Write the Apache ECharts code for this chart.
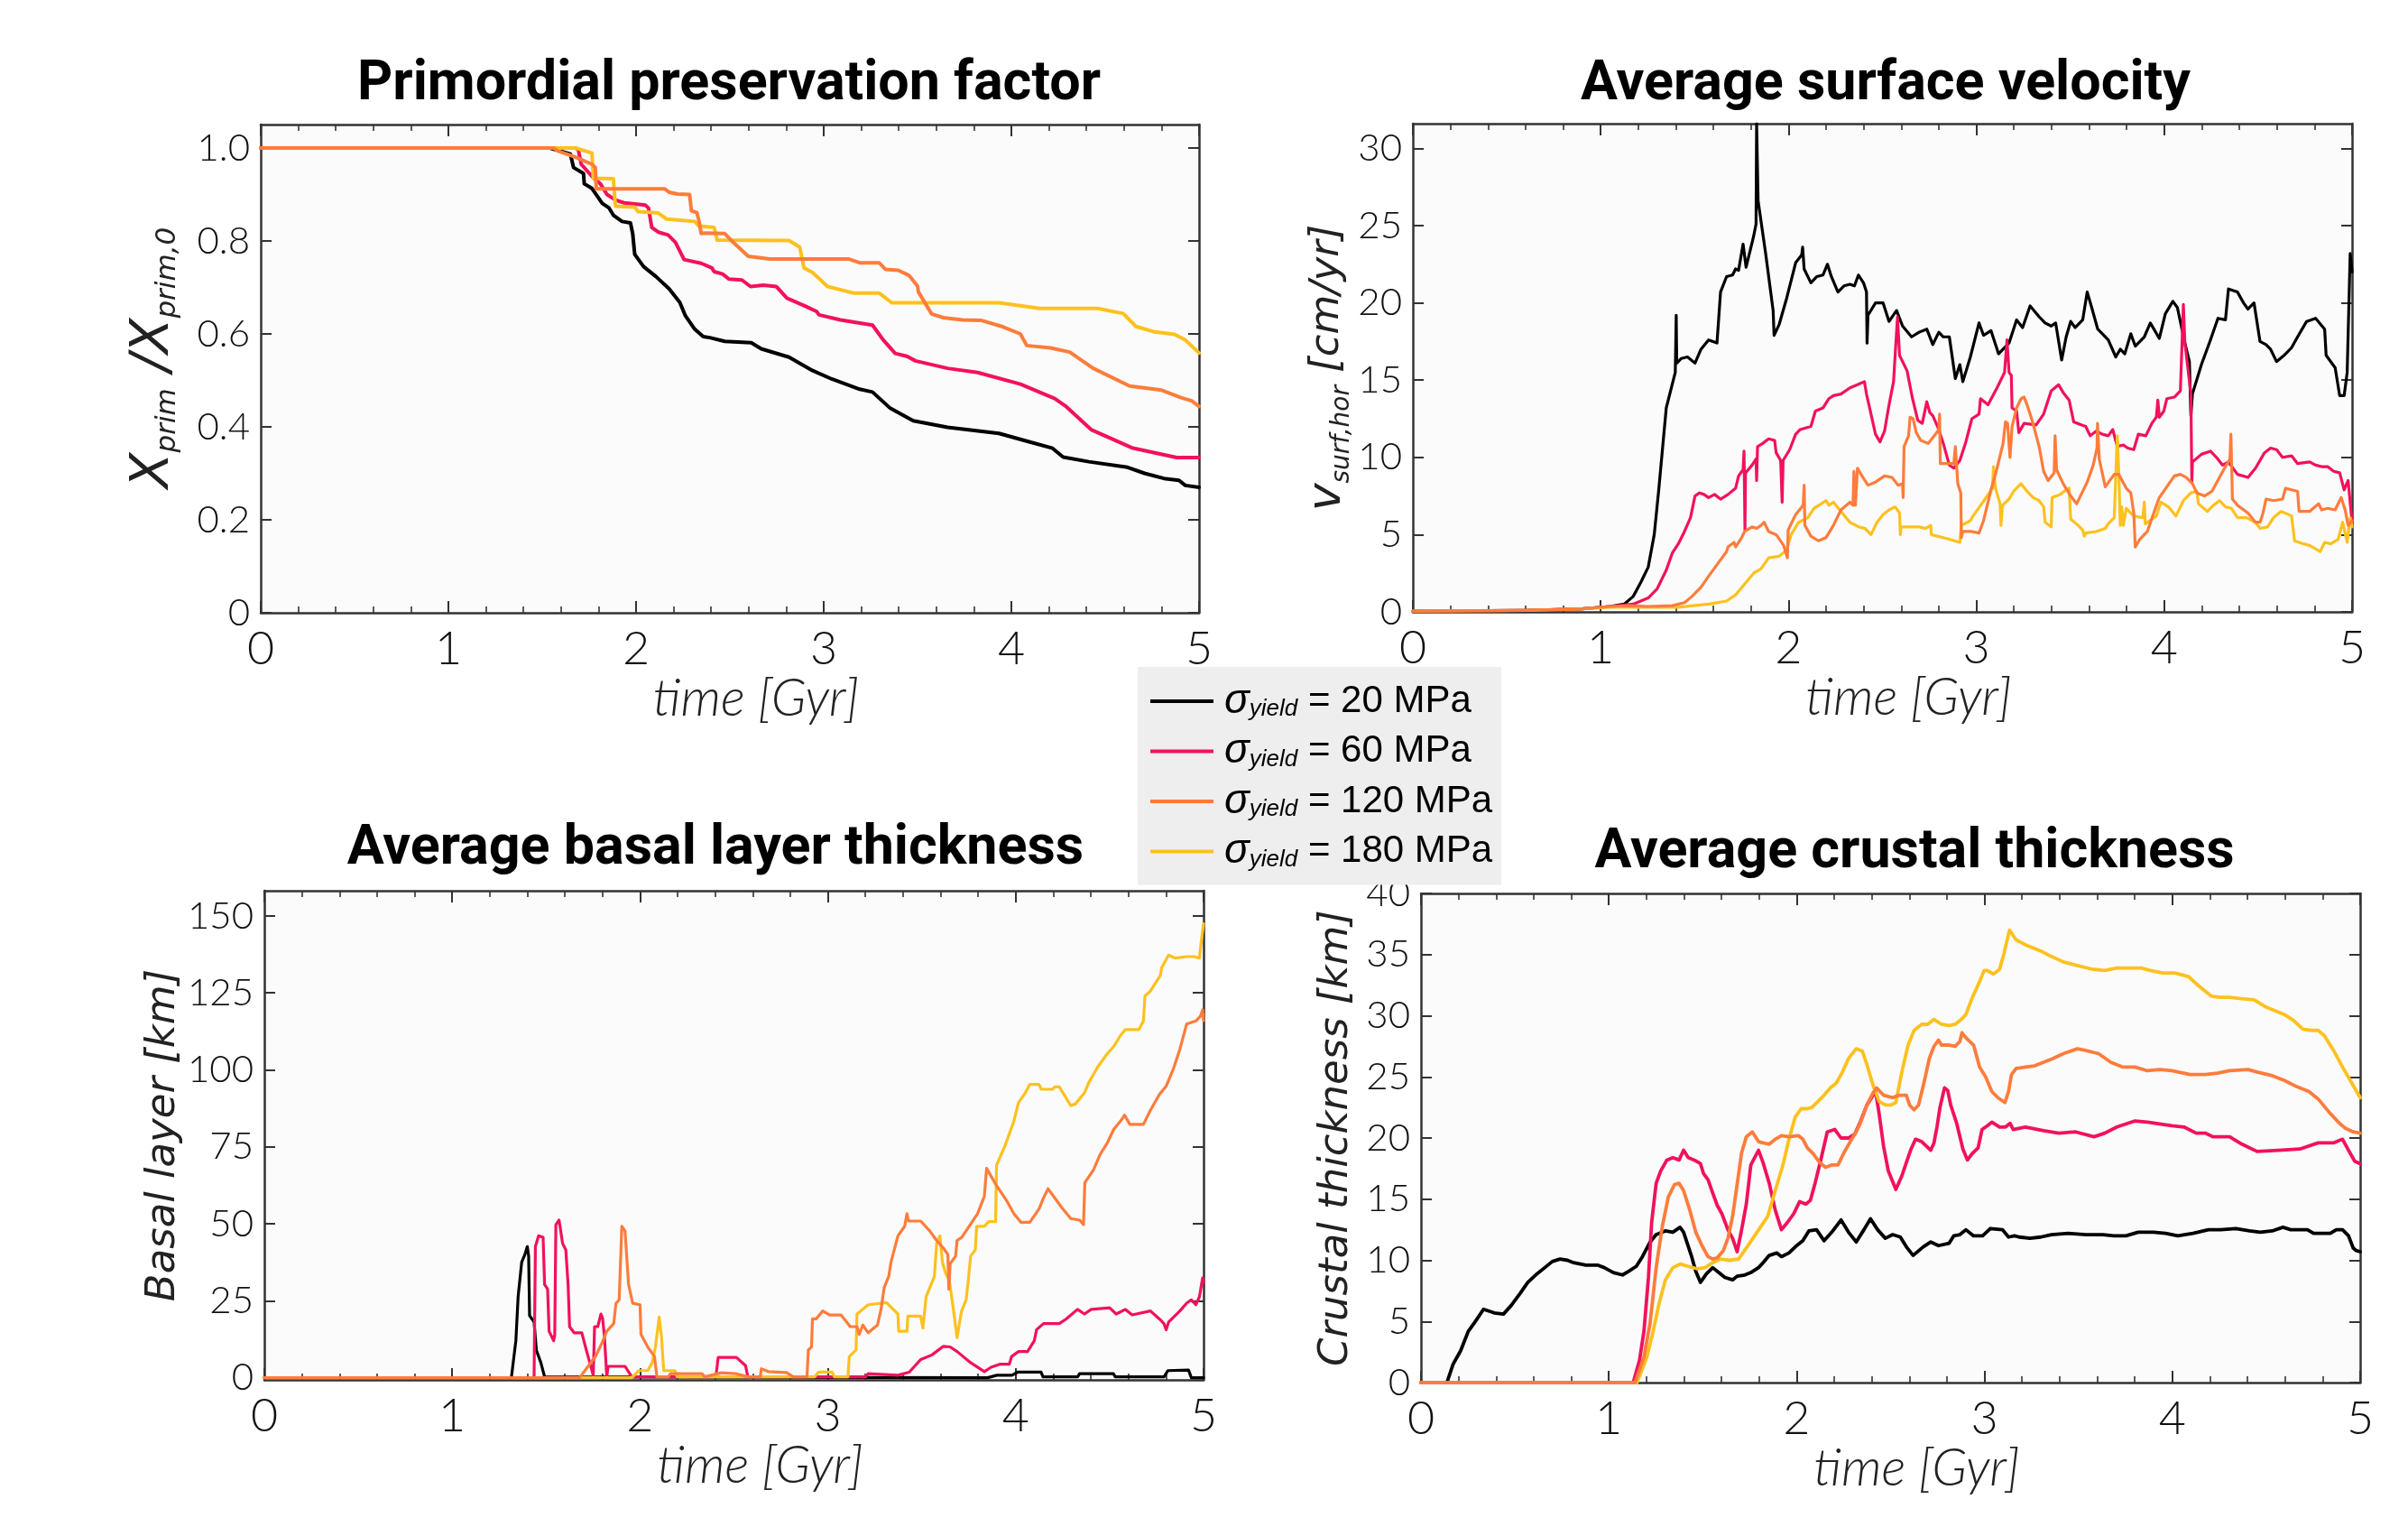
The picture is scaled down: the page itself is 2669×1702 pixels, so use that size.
<!DOCTYPE html>
<html>
<head>
<meta charset="utf-8">
<title>Yield stress comparison</title>
<script src="https://cdn.jsdelivr.net/npm/echarts@6/dist/echarts.min.js"></script>
<style>
html, body { margin: 0; padding: 0; background: #fff; }
#chart { width: 2669px; height: 1702px; }
</style>
</head>
<body>
<div id="chart"></div>
<script>
// time in Gyr
var timeTicks = [0, 1, 2, 3, 4, 5];
var primTicks = [0, 0.2, 0.4, 0.6, 0.8, 1.0];
var velTicks = [0, 5, 10, 15, 20, 25, 30];
var basalTicks = [0, 25, 50, 75, 100, 125, 150];
var crustTicks = [0, 5, 10, 15, 20, 25, 30, 35, 40];

var yieldNames = ['20', '60', '120', '180'];

// Primordial preservation factor
var prim20 = [[0,1],[1.54,1],[1.65,0.987],[1.667,0.958],[1.72,0.945],[1.724,0.923],[1.765,0.913],[1.82,0.881],[1.856,0.871],[1.88,0.855],[1.925,0.842],[1.97,0.839],[1.982,0.816],[1.993,0.771],[2.04,0.745],[2.107,0.723],[2.176,0.697],[2.233,0.668],[2.263,0.639],[2.313,0.61],[2.358,0.594],[2.393,0.592],[2.473,0.584],[2.614,0.581],[2.667,0.568],[2.815,0.55],[2.941,0.521],[3.043,0.503],[3.192,0.481],[3.26,0.475],[3.352,0.441],[3.477,0.413],[3.66,0.399],[3.934,0.386],[4.094,0.368],[4.219,0.354],[4.276,0.335],[4.413,0.325],[4.619,0.313],[4.71,0.3],[4.813,0.289],[4.893,0.285],[4.927,0.274],[5,0.27]];
var prim60 = [[0,1],[1.674,1],[1.692,0.997],[1.708,0.965],[1.765,0.939],[1.81,0.923],[1.845,0.9],[1.89,0.888],[1.936,0.882],[2.05,0.877],[2.066,0.871],[2.084,0.829],[2.119,0.819],[2.171,0.813],[2.21,0.797],[2.256,0.76],[2.347,0.752],[2.404,0.742],[2.416,0.734],[2.461,0.729],[2.495,0.718],[2.564,0.716],[2.61,0.702],[2.678,0.705],[2.747,0.702],[2.804,0.677],[2.906,0.659],[2.963,0.648],[2.975,0.641],[3.089,0.63],[3.26,0.619],[3.317,0.587],[3.381,0.558],[3.443,0.552],[3.489,0.542],[3.66,0.526],[3.82,0.517],[4.048,0.492],[4.231,0.461],[4.288,0.445],[4.425,0.394],[4.642,0.355],[4.881,0.334],[5,0.334]];
var prim120 = [[0,1],[1.56,1],[1.582,0.994],[1.674,0.981],[1.765,0.965],[1.783,0.958],[1.788,0.912],[2.153,0.912],[2.176,0.905],[2.221,0.901],[2.285,0.9],[2.295,0.865],[2.324,0.861],[2.336,0.842],[2.347,0.816],[2.37,0.817],[2.473,0.816],[2.518,0.797],[2.598,0.767],[2.712,0.761],[3.135,0.761],[3.192,0.753],[3.295,0.753],[3.329,0.739],[3.397,0.737],[3.454,0.726],[3.5,0.703],[3.505,0.69],[3.575,0.643],[3.637,0.635],[3.74,0.63],[3.842,0.629],[3.957,0.615],[4.048,0.6],[4.082,0.575],[4.208,0.57],[4.311,0.561],[4.436,0.526],[4.63,0.488],[4.801,0.479],[4.904,0.463],[4.961,0.456],[5,0.444]];
var prim180 = [[0,1],[1.674,1],[1.696,0.998],[1.765,0.989],[1.772,0.935],[1.879,0.934],[1.89,0.875],[1.993,0.873],[2.011,0.863],[2.119,0.86],[2.164,0.847],[2.313,0.842],[2.336,0.832],[2.416,0.829],[2.432,0.802],[2.815,0.801],[2.872,0.787],[2.895,0.742],[2.941,0.732],[3.021,0.702],[3.158,0.688],[3.295,0.688],[3.363,0.667],[3.934,0.667],[4.151,0.655],[4.459,0.655],[4.596,0.644],[4.664,0.616],[4.756,0.605],[4.87,0.599],[4.927,0.587],[5,0.559]];

// Average surface velocity [cm/yr]
var vel20 = [[0,0.05],[0.6,0.1],[0.9,0.2],[1.05,0.35],[1.125,0.5],[1.173,1.0],[1.213,1.9],[1.253,2.9],[1.285,5.0],[1.309,7.9],[1.349,13.2],[1.397,15.5],[1.402,19.2],[1.405,16.1],[1.429,16.4],[1.462,16.5],[1.502,16.1],[1.534,17.0],[1.574,17.6],[1.619,17.4],[1.638,20.7],[1.67,21.7],[1.702,21.8],[1.718,22.2],[1.734,22.1],[1.758,23.8],[1.774,22.3],[1.814,24.3],[1.827,25.1],[1.83,31.6],[1.838,26.6],[1.878,23.2],[1.918,19.5],[1.923,17.9],[1.95,18.6],[1.99,20.3],[2.038,22.6],[2.07,23.1],[2.075,23.6],[2.083,22.2],[2.119,21.3],[2.151,21.7],[2.183,21.8],[2.207,22.5],[2.228,21.7],[2.263,20.7],[2.295,21.1],[2.327,21.2],[2.351,21.1],[2.372,21.8],[2.399,21.3],[2.415,20.7],[2.418,17.4],[2.423,19.2],[2.463,20.0],[2.503,20.0],[2.535,18.8],[2.575,19.5],[2.607,18.5],[2.655,17.8],[2.695,18.1],[2.736,18.3],[2.768,17.3],[2.8,18.1],[2.824,17.8],[2.856,17.8],[2.888,15.1],[2.912,16.0],[2.928,14.9],[2.968,16.5],[3.014,18.7],[3.038,17.9],[3.078,18.2],[3.118,16.7],[3.174,17.4],[3.214,18.9],[3.246,18.4],[3.286,19.8],[3.334,19.1],[3.366,18.7],[3.398,18.5],[3.422,18.7],[3.454,16.3],[3.478,17.8],[3.502,18.8],[3.526,18.4],[3.55,18.7],[3.566,18.9],[3.59,20.7],[3.614,19.7],[3.646,18.3],[3.702,17.6],[3.742,16.5],[3.766,17.0],[3.79,16.7],[3.822,18.0],[3.846,17.2],[3.894,17.8],[3.926,18.7],[3.974,17.7],[4.006,19.3],[4.046,20.1],[4.07,19.7],[4.11,17.4],[4.134,16.2],[4.142,12.7],[4.15,14.1],[4.198,16.0],[4.246,17.6],[4.286,19.0],[4.326,18.9],[4.342,20.9],[4.39,20.7],[4.422,20.0],[4.446,19.6],[4.478,20.0],[4.51,17.5],[4.542,17.3],[4.566,17.0],[4.598,16.2],[4.638,16.6],[4.678,17.1],[4.71,17.8],[4.758,18.8],[4.806,19.0],[4.854,18.3],[4.862,16.6],[4.91,15.8],[4.934,14.0],[4.958,14.0],[4.974,15.5],[4.99,23.2],[5,22.0]];
var vel60 = [[0,0.05],[0.6,0.1],[0.9,0.2],[1.05,0.35],[1.173,0.5],[1.253,0.9],[1.301,1.5],[1.349,2.7],[1.381,3.8],[1.413,4.4],[1.446,5.2],[1.478,6.1],[1.502,7.5],[1.526,7.7],[1.55,7.6],[1.574,7.4],[1.606,7.6],[1.638,7.3],[1.678,7.6],[1.718,8.0],[1.734,8.8],[1.758,9.2],[1.763,10.4],[1.768,5.3],[1.771,9.0],[1.806,9.5],[1.827,9.9],[1.83,8.5],[1.835,10.7],[1.862,10.9],[1.894,11.2],[1.926,11.1],[1.934,10.3],[1.958,9.8],[1.966,7.1],[1.971,9.8],[2.006,10.5],[2.038,11.5],[2.062,11.8],[2.119,12.0],[2.143,13.0],[2.183,13.2],[2.215,13.8],[2.239,14.0],[2.279,14.1],[2.327,14.5],[2.367,14.7],[2.404,14.9],[2.415,14.1],[2.439,12.8],[2.463,11.5],[2.487,11.0],[2.511,11.7],[2.535,13.4],[2.559,14.9],[2.58,19.1],[2.591,16.6],[2.631,15.6],[2.66,13.8],[2.688,12.4],[2.712,12.2],[2.736,13.6],[2.752,12.9],[2.768,12.7],[2.8,11.8],[2.824,10.9],[2.856,9.5],[2.88,9.3],[2.912,9.8],[2.944,11.0],[2.976,12.5],[3.014,12.8],[3.022,13.8],[3.062,13.4],[3.11,14.5],[3.15,15.5],[3.163,17.6],[3.174,15.5],[3.186,15.3],[3.19,13.2],[3.214,13.0],[3.226,11.6],[3.254,12.2],[3.318,12.1],[3.358,12.8],[3.398,14.3],[3.438,14.7],[3.462,14.2],[3.494,13.7],[3.518,12.3],[3.558,12.1],[3.582,12.0],[3.606,11.4],[3.638,11.7],[3.67,11.5],[3.702,11.4],[3.726,11.8],[3.75,10.7],[3.782,10.8],[3.806,10.6],[3.838,10.5],[3.862,11.5],[3.902,11.4],[3.934,12.2],[3.958,12.6],[3.966,13.7],[3.974,12.6],[3.998,13.0],[4.014,13.8],[4.054,13.9],[4.086,14.3],[4.102,19.9],[4.11,17.4],[4.142,14.1],[4.147,8.4],[4.15,9.7],[4.198,10.2],[4.246,10.4],[4.278,10.0],[4.31,9.5],[4.342,9.7],[4.39,8.9],[4.446,8.7],[4.486,9.3],[4.534,10.3],[4.566,10.6],[4.598,10.5],[4.63,10.0],[4.678,10.1],[4.71,9.6],[4.774,9.7],[4.806,9.5],[4.838,9.4],[4.87,9.4],[4.902,9.1],[4.934,9.0],[4.958,7.9],[4.979,8.5],[5,5.8]];
var vel120 = [[0,0.05],[0.6,0.1],[0.9,0.2],[1.05,0.35],[1.15,0.4],[1.253,0.35],[1.381,0.4],[1.446,0.6],[1.486,1.0],[1.534,1.6],[1.574,2.3],[1.622,3.1],[1.67,3.9],[1.678,4.2],[1.686,4.1],[1.71,4.5],[1.718,4.2],[1.75,4.8],[1.766,5.2],[1.806,5.5],[1.83,5.4],[1.854,5.6],[1.87,5.8],[1.894,5.2],[1.934,5.0],[1.974,4.3],[1.994,3.5],[1.998,5.3],[2.038,6.3],[2.078,6.9],[2.083,8.2],[2.087,5.6],[2.119,4.9],[2.159,4.6],[2.199,4.8],[2.239,5.6],[2.279,6.6],[2.327,7.1],[2.343,6.9],[2.348,9.1],[2.356,6.9],[2.367,9.3],[2.391,8.8],[2.423,8.2],[2.463,8.4],[2.511,8.8],[2.551,8.7],[2.583,8.2],[2.607,8.3],[2.61,7.4],[2.615,10.7],[2.639,11.4],[2.647,12.6],[2.663,12.5],[2.68,11.6],[2.704,11.1],[2.744,10.9],[2.776,11.4],[2.8,11.8],[2.804,12.8],[2.808,9.6],[2.88,9.6],[2.888,10.7],[2.901,8.3],[2.917,7.7],[2.92,4.8],[2.928,5.2],[2.976,5.2],[3.014,5.1],[3.038,5.9],[3.078,7.9],[3.11,9.3],[3.142,10.9],[3.155,12.3],[3.166,12.2],[3.179,10.0],[3.19,12.0],[3.214,13.2],[3.238,13.8],[3.254,13.9],[3.27,13.4],[3.278,13.5],[3.294,12.5],[3.31,11.8],[3.334,10.7],[3.358,9.1],[3.382,8.5],[3.414,9.0],[3.419,11.4],[3.427,9.2],[3.462,8.3],[3.502,7.5],[3.534,7.0],[3.558,7.6],[3.59,8.4],[3.622,9.5],[3.642,10.6],[3.645,12.2],[3.654,9.9],[3.686,8.1],[3.734,8.9],[3.758,8.9],[3.798,8.0],[3.822,7.7],[3.838,6.4],[3.846,4.2],[3.87,4.7],[3.91,5.2],[3.95,6.6],[3.974,7.4],[4.014,8.1],[4.054,8.8],[4.086,8.9],[4.118,8.7],[4.15,8.3],[4.174,7.7],[4.214,7.5],[4.254,7.8],[4.294,8.7],[4.326,9.4],[4.35,9.9],[4.355,11.5],[4.363,7.3],[4.39,6.9],[4.446,6.4],[4.486,5.8],[4.51,5.8],[4.526,6.4],[4.542,7.3],[4.582,7.2],[4.63,7.3],[4.646,8.0],[4.678,7.9],[4.71,7.8],[4.718,6.5],[4.774,6.5],[4.822,7.0],[4.838,6.6],[4.87,6.7],[4.91,6.6],[4.942,7.4],[4.963,6.6],[4.979,5.6],[5,5.9]];
var vel180 = [[0,0.05],[0.6,0.1],[0.9,0.2],[1.05,0.3],[1.15,0.3],[1.413,0.3],[1.574,0.5],[1.67,0.7],[1.718,1.1],[1.766,1.8],[1.814,2.5],[1.854,2.8],[1.894,3.5],[1.95,3.6],[1.99,4.0],[2.014,5.0],[2.054,5.8],[2.103,6.1],[2.135,6.7],[2.175,7.0],[2.199,7.2],[2.215,6.9],[2.239,7.1],[2.279,6.5],[2.327,5.8],[2.375,5.5],[2.407,5.4],[2.439,5.0],[2.471,5.8],[2.503,6.3],[2.535,6.6],[2.567,6.8],[2.591,6.4],[2.595,5.0],[2.599,5.5],[2.647,5.5],[2.696,5.5],[2.728,5.4],[2.757,5.6],[2.76,5.0],[2.792,4.9],[2.856,4.7],[2.912,4.5],[2.92,5.6],[2.968,5.9],[2.982,6.2],[3.046,7.3],[3.086,8.0],[3.091,9.4],[3.102,8.0],[3.126,7.0],[3.131,5.6],[3.139,6.9],[3.174,7.3],[3.198,7.8],[3.238,8.3],[3.27,7.8],[3.302,7.4],[3.334,7.2],[3.358,6.8],[3.366,5.8],[3.398,5.5],[3.403,7.4],[3.446,7.6],[3.478,7.9],[3.494,8.0],[3.502,6.0],[3.542,5.6],[3.566,5.3],[3.574,4.9],[3.582,5.1],[3.638,5.2],[3.686,5.4],[3.702,5.7],[3.734,6.1],[3.75,11.4],[3.758,9.1],[3.766,5.6],[3.774,6.8],[3.782,5.6],[3.798,6.7],[3.838,6.2],[3.886,6.1],[3.894,7.1],[3.899,5.7],[3.958,6.2],[3.982,7.1],[4.022,6.8],[4.062,6.2],[4.102,7.2],[4.142,7.7],[4.174,7.8],[4.182,7.0],[4.23,6.5],[4.262,6.9],[4.294,7.2],[4.326,6.8],[4.358,6.7],[4.39,6.1],[4.438,6.1],[4.486,5.8],[4.51,5.4],[4.55,5.5],[4.582,6.1],[4.622,6.5],[4.662,6.3],[4.678,6.2],[4.694,4.6],[4.742,4.4],[4.774,4.3],[4.83,3.9],[4.854,4.5],[4.886,4.4],[4.926,4.7],[4.95,5.8],[4.974,4.5],[4.99,6.1],[5,5.5]];

// Average basal layer thickness [km]
var basal20 = [[0,0],[1.315,0],[1.339,12],[1.351,26.3],[1.37,37.5],[1.387,40],[1.4,42.6],[1.407,39.5],[1.412,20.2],[1.436,18.1],[1.448,9.0],[1.472,4.9],[1.492,0.3],[1.5,0],[3.85,0],[3.9,0.8],[3.98,0.8],[4.01,1.8],[4.135,1.8],[4.145,0.3],[4.33,0.3],[4.34,1.3],[4.52,1.3],[4.53,0.3],[4.79,0.3],[4.81,2.3],[4.92,2.5],[4.935,0],[5,0]];
var basal60 = [[0,0],[1.436,0],[1.443,42.6],[1.46,46.1],[1.484,45.6],[1.492,30.3],[1.508,28.8],[1.516,15.1],[1.54,12.0],[1.546,14],[1.552,49.7],[1.569,51.2],[1.588,43.6],[1.605,41.5],[1.617,30.3],[1.625,16.6],[1.649,14.6],[1.69,14.6],[1.714,9.0],[1.751,0.8],[1.758,16.6],[1.775,16.6],[1.792,20.7],[1.801,19.2],[1.811,13],[1.823,0.3],[1.83,3.7],[1.92,3.7],[1.956,0.3],[2.404,0.3],[2.416,6.6],[2.513,6.6],[2.562,3.9],[2.574,0.3],[3.2,0.3],[3.215,1.3],[3.373,0.8],[3.433,1.8],[3.494,5.9],[3.554,7.4],[3.615,10.2],[3.651,10.0],[3.688,8.5],[3.76,4.9],[3.833,2.0],[3.869,3.4],[3.918,4.4],[3.966,4.4],[3.978,6.9],[4.015,8.5],[4.063,8.5],[4.099,12.0],[4.111,15.6],[4.148,17.6],[4.232,17.6],[4.269,19.1],[4.329,22.2],[4.366,20.7],[4.402,22.2],[4.5,22.7],[4.535,20.7],[4.584,22.2],[4.62,20.4],[4.717,21.7],[4.765,19.1],[4.789,17.6],[4.801,15.6],[4.814,18.1],[4.874,21.7],[4.91,24.2],[4.935,25.3],[4.959,23.7],[4.978,26.3],[4.995,32.4],[5,31]];
var basal120 = [[0,0],[1.678,0],[1.726,3.9],[1.763,6.9],[1.799,11.5],[1.823,15.1],[1.86,17.6],[1.872,24.2],[1.889,25.3],[1.903,49.2],[1.92,47.7],[1.939,30.3],[1.961,24.2],[2.0,23.7],[2.005,14.1],[2.041,10.0],[2.077,6.9],[2.09,0.3],[2.15,0.3],[2.162,1.3],[2.33,1.3],[2.345,0.3],[2.43,1.6],[2.513,1.3],[2.574,0.3],[2.64,0.3],[2.646,2.9],[2.683,2.0],[2.78,1.7],[2.816,0.3],[2.889,0.3],[2.896,9.0],[2.913,10],[2.918,19.1],[2.937,19.1],[2.973,21.7],[3.01,20.4],[3.07,20.4],[3.119,16.6],[3.155,16.6],[3.167,14.1],[3.186,17.1],[3.215,14.6],[3.264,17.1],[3.283,22.2],[3.3,29.3],[3.324,32.9],[3.336,37.5],[3.373,46.1],[3.409,49.2],[3.421,53.3],[3.429,50.9],[3.494,50.9],[3.542,47.7],[3.579,44.6],[3.615,42.1],[3.639,40.0],[3.644,28.8],[3.651,37.0],[3.68,39.5],[3.688,44.6],[3.712,45.6],[3.736,47.7],[3.797,53.3],[3.833,58.9],[3.845,68.0],[3.893,62.9],[3.954,57.3],[3.99,53.3],[4.027,50.5],[4.075,50.5],[4.124,54.8],[4.148,58.4],[4.172,61.4],[4.196,59.4],[4.245,55.3],[4.293,51.7],[4.341,51.2],[4.361,49.7],[4.368,63.4],[4.414,67.5],[4.45,72.6],[4.487,76.2],[4.523,80.8],[4.56,83.5],[4.579,85.3],[4.608,82.3],[4.68,82.3],[4.717,86.9],[4.765,92.0],[4.801,94.7],[4.838,100.1],[4.874,106.7],[4.91,114.9],[4.959,115.9],[4.983,117.4],[4.995,119.5],[5,116]];
var basal180 = [[0,0],[1.956,0],[1.993,2.3],[2.041,2.3],[2.065,4.9],[2.082,10.0],[2.102,19.7],[2.114,13.5],[2.126,2.3],[2.186,2.3],[2.198,0.3],[2.93,0.3],[2.95,1.8],[3.022,1.8],[3.035,0.3],[3.107,0.3],[3.114,6.9],[3.15,9.0],[3.155,20.7],[3.215,23.7],[3.312,24.4],[3.373,20.7],[3.377,15.1],[3.421,15.1],[3.426,20.0],[3.494,20.0],[3.506,16.1],[3.523,26.3],[3.567,32.9],[3.579,43.6],[3.596,46.1],[3.61,37.5],[3.627,33.9],[3.646,31.8],[3.666,23.2],[3.688,13.0],[3.7,17.6],[3.712,21.7],[3.736,25.3],[3.748,31.9],[3.76,39.5],[3.785,41.5],[3.792,49.2],[3.833,49.2],[3.857,50.7],[3.893,50.7],[3.898,69.0],[3.942,75.2],[3.99,83.3],[4.015,89.4],[4.051,92.5],[4.075,95.3],[4.124,95.3],[4.136,93.7],[4.196,93.7],[4.208,94.5],[4.232,94.5],[4.293,88.4],[4.317,88.9],[4.366,92.5],[4.39,96.0],[4.438,101.1],[4.487,105.2],[4.523,107.7],[4.559,111.3],[4.584,113.1],[4.656,113.1],[4.68,115.9],[4.688,124.0],[4.717,125.6],[4.77,130.7],[4.777,133.2],[4.814,137.3],[4.85,136.3],[4.91,136.8],[4.95,136.8],[4.978,136.3],[4.983,139.3],[5,147.5]];

// Average crustal thickness [km]
var crust20 = [[0,0],[0.138,0],[0.171,1.5],[0.211,2.6],[0.252,4.2],[0.285,4.9],[0.333,6.0],[0.39,5.7],[0.439,5.6],[0.48,6.3],[0.528,7.3],[0.569,8.2],[0.618,8.9],[0.659,9.4],[0.699,9.9],[0.74,10.1],[0.78,10.0],[0.813,9.8],[0.878,9.6],[0.943,9.6],[0.976,9.4],[1.024,9.0],[1.073,8.8],[1.106,9.1],[1.146,9.5],[1.179,10.3],[1.22,11.5],[1.252,12.1],[1.301,12.4],[1.341,12.3],[1.379,12.7],[1.398,12.3],[1.439,10.4],[1.463,9.1],[1.488,8.2],[1.52,8.9],[1.553,9.4],[1.585,9.0],[1.618,8.6],[1.659,8.4],[1.683,8.7],[1.724,8.8],[1.756,9.0],[1.797,9.4],[1.821,9.8],[1.854,10.4],[1.894,10.6],[1.919,10.3],[1.959,10.6],[2.0,11.2],[2.033,11.6],[2.065,12.4],[2.106,12.5],[2.146,11.6],[2.187,12.3],[2.236,13.3],[2.276,12.3],[2.317,11.5],[2.358,12.5],[2.393,13.4],[2.431,12.5],[2.472,11.8],[2.511,12.1],[2.552,11.9],[2.584,11.1],[2.62,10.4],[2.674,11.1],[2.714,11.5],[2.755,11.2],[2.812,11.4],[2.836,12.0],[2.869,12.1],[2.901,12.5],[2.942,12.0],[2.99,12.0],[3.031,12.6],[3.096,12.5],[3.128,11.9],[3.16,12.0],[3.185,11.9],[3.242,11.8],[3.299,11.9],[3.356,12.1],[3.445,12.2],[3.542,12.1],[3.631,12.1],[3.688,12.0],[3.753,12.0],[3.818,12.3],[3.899,12.3],[3.964,12.2],[4.029,12.0],[4.11,12.2],[4.192,12.5],[4.256,12.5],[4.338,12.6],[4.411,12.4],[4.468,12.3],[4.532,12.4],[4.589,12.7],[4.63,12.5],[4.719,12.5],[4.752,12.2],[4.841,12.2],[4.873,12.5],[4.906,12.5],[4.938,12.0],[4.963,11.0],[4.979,10.8],[5,10.7]];
var crust60 = [[0,0],[1.13,0],[1.163,1.8],[1.187,4.2],[1.211,8.6],[1.228,13.1],[1.252,16.3],[1.276,17.3],[1.309,18.2],[1.341,18.4],[1.374,18.2],[1.398,19.0],[1.423,18.4],[1.455,18.2],[1.488,17.9],[1.504,17.1],[1.528,16.6],[1.553,15.5],[1.577,14.5],[1.602,13.8],[1.634,12.5],[1.659,11.8],[1.683,10.7],[1.707,12.5],[1.732,14.6],[1.756,17.8],[1.797,19.0],[1.821,18.0],[1.854,16.3],[1.886,14.1],[1.919,12.5],[1.951,13.1],[1.984,13.8],[2.016,14.8],[2.049,14.6],[2.073,14.9],[2.098,16.3],[2.13,18.3],[2.163,20.5],[2.203,20.7],[2.236,20.0],[2.276,20.0],[2.309,20.3],[2.341,21.4],[2.374,22.7],[2.42,23.8],[2.439,22.0],[2.463,19.3],[2.488,17.3],[2.528,15.8],[2.56,16.9],[2.584,18.0],[2.609,19.1],[2.633,19.9],[2.666,19.7],[2.714,19.0],[2.731,19.6],[2.747,20.9],[2.763,22.5],[2.787,24.1],[2.804,23.9],[2.82,22.7],[2.852,21.2],[2.885,19.1],[2.909,18.2],[2.933,18.7],[2.966,19.2],[2.987,20.7],[3.015,21.0],[3.039,21.3],[3.08,20.9],[3.112,20.9],[3.136,21.2],[3.153,20.7],[3.218,20.9],[3.315,20.6],[3.396,20.4],[3.485,20.5],[3.583,20.1],[3.64,20.4],[3.705,20.9],[3.802,21.4],[3.867,21.3],[3.997,21.0],[4.062,20.9],[4.127,20.4],[4.175,20.4],[4.216,20.1],[4.305,20.1],[4.37,19.5],[4.451,18.9],[4.565,19.0],[4.679,19.1],[4.776,19.6],[4.857,19.6],[4.906,19.9],[4.938,19.0],[4.971,18.1],[5,17.9]];
var crust120 = [[0,0],[1.14,0],[1.187,2.1],[1.22,4.9],[1.252,9.4],[1.285,12.8],[1.317,15.2],[1.35,16.2],[1.374,16.3],[1.398,15.7],[1.431,14.1],[1.463,12.3],[1.496,11.2],[1.528,10.3],[1.553,10.1],[1.577,10.2],[1.61,10.8],[1.634,11.8],[1.659,13.6],[1.683,16.2],[1.707,18.8],[1.732,20.1],[1.764,20.5],[1.797,19.7],[1.821,19.6],[1.854,19.5],[1.886,19.9],[1.919,20.2],[1.959,20.1],[2.008,20.2],[2.033,19.9],[2.057,19.2],[2.089,18.7],[2.122,18.0],[2.154,17.6],[2.187,17.8],[2.22,17.8],[2.252,18.8],[2.285,19.7],[2.317,20.5],[2.341,21.3],[2.374,22.7],[2.407,23.7],[2.426,24.1],[2.463,23.5],[2.511,23.3],[2.544,23.5],[2.584,23.5],[2.601,22.7],[2.625,22.3],[2.649,22.7],[2.682,24.8],[2.706,26.5],[2.731,27.5],[2.755,28.0],[2.771,27.6],[2.812,27.6],[2.844,27.5],[2.869,27.9],[2.88,28.6],[2.901,28.2],[2.942,27.6],[2.974,25.8],[3.006,25.0],[3.039,23.8],[3.071,23.3],[3.109,22.9],[3.128,23.8],[3.144,25.2],[3.169,25.7],[3.218,25.8],[3.266,25.9],[3.315,26.2],[3.364,26.5],[3.42,26.9],[3.494,27.3],[3.526,27.2],[3.607,26.9],[3.672,26.2],[3.737,25.8],[3.802,25.8],[3.867,25.5],[3.932,25.6],[3.997,25.5],[4.094,25.2],[4.175,25.2],[4.24,25.3],[4.305,25.5],[4.403,25.6],[4.451,25.4],[4.532,25.1],[4.597,24.7],[4.662,24.2],[4.727,23.8],[4.776,23.2],[4.841,22.0],[4.89,21.2],[4.922,20.8],[4.963,20.5],[5,20.4]];
var crust180 = [[0,0],[1.15,0],[1.203,2.1],[1.236,4.2],[1.268,6.5],[1.301,8.4],[1.341,9.4],[1.382,9.7],[1.423,9.5],[1.472,9.3],[1.512,9.4],[1.553,9.8],[1.593,10.1],[1.642,10.0],[1.691,10.1],[1.732,11.0],[1.789,12.3],[1.846,13.6],[1.886,15.7],[1.927,17.8],[1.959,19.9],[1.992,21.7],[2.024,22.4],[2.057,22.4],[2.081,22.5],[2.114,23.0],[2.146,23.5],[2.179,24.1],[2.211,24.5],[2.244,25.4],[2.276,26.5],[2.317,27.3],[2.35,27.1],[2.374,26.0],[2.407,24.3],[2.439,23.0],[2.472,22.7],[2.503,22.7],[2.528,22.9],[2.56,25.4],[2.593,27.6],[2.625,28.8],[2.666,29.3],[2.698,29.3],[2.731,29.7],[2.771,29.3],[2.812,29.2],[2.844,29.3],[2.877,29.7],[2.901,30.1],[2.933,31.4],[2.974,32.8],[2.998,33.7],[3.015,33.7],[3.047,33.4],[3.08,33.8],[3.104,35.1],[3.133,37.0],[3.169,36.2],[3.218,35.8],[3.299,35.3],[3.348,34.9],[3.42,34.4],[3.494,34.1],[3.575,33.8],[3.64,33.7],[3.705,33.9],[3.834,33.9],[3.883,33.7],[3.948,33.5],[4.013,33.5],[4.086,33.2],[4.143,32.4],[4.208,31.6],[4.256,31.5],[4.305,31.5],[4.37,31.4],[4.435,31.3],[4.5,30.7],[4.597,30.1],[4.646,29.6],[4.695,28.9],[4.744,28.8],[4.776,28.8],[4.808,28.4],[4.857,27.2],[4.906,25.8],[4.955,24.5],[5,23.3]];

var colors = { '20': '#000000', '60': '#f2115c', '120': '#fe7c3c', '180': '#fdc11f' };

var TICK_FONT = "Lato, 'Open Sans', 'Liberation Sans', sans-serif";
var TITLE_FONT = "Roboto, 'Liberation Sans', sans-serif";
var NAME_FONT = "'DejaVu Sans', 'Liberation Sans', sans-serif";
var AXIS_COLOR = '#333';

var myChart = echarts.init(document.getElementById('chart'), null, { renderer: 'canvas' });

var panels = [
    { title: 'Primordial preservation factor', tx: 808, ty: 95,
      grid: { left: 289, top: 138, width: 1040, height: 541 },
      min: 0, max: 1.0505, ticks: primTicks,
      fmt: function (v) { return v === 0 ? '0' : v.toFixed(1); },
      name: '{m|X}{s|prim}{m| /X}{s|prim,0}', nameGap: 88, namePad: [0, 0, 0, 24],
      width: 4, data: [prim20, prim60, prim120, prim180] },
    { title: 'Average surface velocity', tx: 2090, ty: 95,
      grid: { left: 1566, top: 137, width: 1041, height: 541 },
      min: 0, max: 31.6, ticks: velTicks,
      fmt: function (v) { return String(v); },
      name: '{m|v}{s|surf,hor}{n| [cm/yr]}', nameGap: 60, namePad: 0,
      width: 3.2, data: [vel20, vel60, vel120, vel180] },
    { title: 'Average basal layer thickness', tx: 793, ty: 942,
      grid: { left: 293, top: 987, width: 1041, height: 542 },
      min: -0.7, max: 158.2, ticks: basalTicks,
      fmt: function (v) { return String(v); },
      name: '{n|Basal layer [km]}', nameGap: 76, namePad: 0,
      width: 3.2, data: [basal20, basal60, basal120, basal180] },
    { title: 'Average crustal thickness', tx: 2122, ty: 946,
      grid: { left: 1575, top: 990, width: 1041, height: 542 },
      min: 0, max: 40, ticks: crustTicks,
      fmt: function (v) { return String(v); },
      name: '{n|Crustal thickness [km]}', nameGap: 66, namePad: 0,
      width: 3.8, data: [crust20, crust60, crust120, crust180] }
];

var titles = [], grids = [], xAxes = [], yAxes = [], series = [];

panels.forEach(function (p, g) {
    titles.push({
        text: p.title, left: p.tx, top: p.ty, padding: 0,
        textAlign: 'center', textVerticalAlign: 'middle',
        textStyle: { fontFamily: TITLE_FONT, fontWeight: 'bold', fontSize: 61, color: '#000' }
    });
    grids.push({
        left: p.grid.left, top: p.grid.top, width: p.grid.width, height: p.grid.height,
        show: true, backgroundColor: '#fbfbfb', borderWidth: 0,
        containLabel: false, outerBoundsMode: 'none'
    });

    [0, 1].forEach(function (k) {
        xAxes.push({
            type: 'value', gridIndex: g, position: k === 0 ? 'bottom' : 'top',
            min: 0, max: 5, interval: 1,
            axisLine: { show: true, onZero: false, lineStyle: { color: AXIS_COLOR, width: 2.5 } },
            axisTick: { show: true, inside: true, length: 13, lineStyle: { color: AXIS_COLOR, width: 2 } },
            minorTick: { show: true, splitNumber: 5, length: 7, lineStyle: { color: AXIS_COLOR, width: 1.6 } },
            axisLabel: { show: k === 0, margin: 14, fontFamily: TICK_FONT, fontWeight: 300, fontSize: 52, color: '#111',
                customValues: timeTicks },
            splitLine: { show: false },
            minorSplitLine: { show: false },
            name: k === 0 ? 'time [Gyr]' : '',
            nameLocation: 'middle', nameGap: g < 2 ? 60 : 62,
            nameTextStyle: { fontFamily: TICK_FONT, fontStyle: 'italic', fontWeight: 300, fontSize: 57, color: '#222',
                padding: [0, 0, 0, 58] }
        });
        yAxes.push({
            type: 'value', gridIndex: g, position: k === 0 ? 'left' : 'right',
            min: p.min, max: p.max,
            axisLine: { show: true, onZero: false, lineStyle: { color: AXIS_COLOR, width: 2.5 } },
            axisTick: { show: true, inside: true, length: 12, customValues: p.ticks, lineStyle: { color: AXIS_COLOR, width: 2 } },
            axisLabel: { show: k === 0, margin: 12, fontFamily: TICK_FONT, fontWeight: 300, fontSize: 42, color: '#111',
                customValues: p.ticks, formatter: p.fmt },
            splitLine: { show: false },
            name: k === 0 ? p.name : '',
            nameLocation: 'middle', nameRotate: 90, nameGap: p.nameGap,
            nameTextStyle: {
                fontFamily: NAME_FONT, fontStyle: 'italic', fontSize: 45, color: '#222', padding: p.namePad,
                rich: {
                    m: { fontFamily: NAME_FONT, fontStyle: 'italic', fontSize: g === 0 ? 58 : 52, color: '#222', lineHeight: 60 },
                    n: { fontFamily: NAME_FONT, fontStyle: 'italic', fontSize: 45, color: '#222', lineHeight: 56 },
                    s: { fontFamily: NAME_FONT, fontStyle: 'italic', fontSize: g === 0 ? 31 : 28, color: '#222', lineHeight: 20, verticalAlign: 'bottom' }
                }
            }
        });
    });

    // draw order: black, pink, yellow, orange (orange ends on top)
    [0, 1, 3, 2].forEach(function (i) {
        var nm = yieldNames[i];
        series.push({
            type: 'line', name: nm,
            xAxisIndex: 2 * g, yAxisIndex: 2 * g,
            data: p.data[i],
            showSymbol: false, symbol: 'none',
            lineStyle: { width: p.width, color: colors[nm], cap: 'round', join: 'round' },
            itemStyle: { color: colors[nm] },
            silent: true
        });
    });
});

var option = {
    backgroundColor: '#ffffff',
    animation: false,
    title: titles,
    grid: grids,
    xAxis: xAxes,
    yAxis: yAxes,
    legend: {
        data: yieldNames,
        orient: 'vertical',
        left: 1261, top: 739,
        padding: [15, 10, 14, 14],
        backgroundColor: '#eeeeee',
        borderWidth: 0,
        itemWidth: 70, itemHeight: 4, itemGap: 9.5,
        icon: 'rect',
        itemStyle: { borderWidth: 0 },
        selectedMode: false,
        formatter: function (name) {
            return '{s|\u03c3}{sub|yield}{t| = ' + name + ' MPa}';
        },
        textStyle: {
            fontFamily: "'Liberation Sans', Arial, sans-serif", fontSize: 42, color: '#000',
            rich: {
                s: { fontFamily: "'Liberation Sans', Arial, sans-serif", fontStyle: 'italic', fontSize: 46, lineHeight: 44, padding: [0, 0, 0, 7], color: '#000' },
                sub: { fontFamily: "'Liberation Sans', Arial, sans-serif", fontStyle: 'italic', fontSize: 26, lineHeight: 20, verticalAlign: 'bottom', color: '#000' },
                t: { fontFamily: "'Liberation Sans', Arial, sans-serif", fontSize: 42, lineHeight: 44, color: '#000' }
            }
        }
    },
    series: series
};

myChart.setOption(option);
</script>
</body>
</html>
